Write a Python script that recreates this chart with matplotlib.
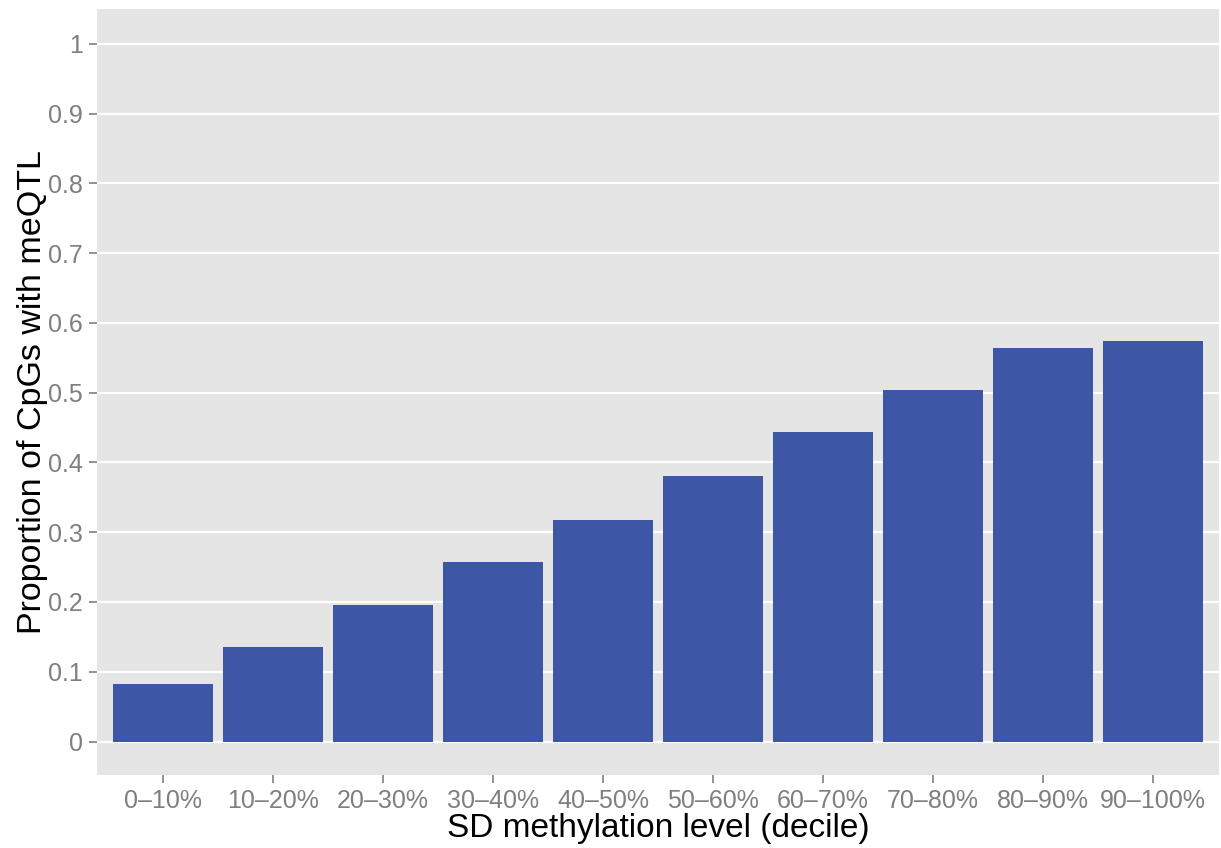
import matplotlib
matplotlib.use("Agg")
from matplotlib import pyplot as plt
from matplotlib.ticker import FixedLocator

# decile labels and proportion of CpGs with meQTL
deciles = ["0\u201310%", "10\u201320%", "20\u201330%", "30\u201340%", "40\u201350%",
           "50\u201360%", "60\u201370%", "70\u201380%", "80\u201390%", "90\u2013100%"]
proportion = [0.083, 0.136, 0.195, 0.258, 0.318, 0.381, 0.443, 0.504, 0.564, 0.574]
y_ticks = [0, 0.1, 0.2, 0.3, 0.4, 0.5, 0.6, 0.7, 0.8, 0.9, 1]
y_labels = ["0", "0.1", "0.2", "0.3", "0.4", "0.5", "0.6", "0.7", "0.8", "0.9", "1"]

plt.rcParams["font.family"] = ["Liberation Sans", "DejaVu Sans"]

fig = plt.figure(figsize=(12.21, 8.48), dpi=100)
ax = fig.add_axes([0.0794, 0.0861, 0.9190, 0.9033])
ax.set_facecolor("#e5e5e5")

# bars
pos = list(range(1, len(deciles) + 1))
ax.bar(pos, proportion, width=0.91, color="#3d57a6", zorder=3)

# grid lines on the y ticks only
ax.yaxis.set_major_locator(FixedLocator(y_ticks))
ax.set_yticklabels(y_labels)
ax.grid(axis="y", color="white", linewidth=1.6, zorder=1)
ax.set_xticks(pos)
ax.set_xticklabels(deciles)

ax.set_xlim(0.4, 10.6)
ax.set_ylim(-0.048, 1.05)

for s in ax.spines.values():
    s.set_visible(False)

ax.tick_params(axis="both", colors="#7f7f7f", labelsize=18, length=6, width=1.2)
ax.tick_params(axis="y", pad=4)
ax.tick_params(axis="x", pad=4)

ax.set_xlabel("SD methylation level (decile)", fontsize=24, labelpad=0)
ax.set_ylabel("Proportion of CpGs with meQTL", fontsize=24.5, labelpad=0)

fig.savefig("out.png", dpi=100)
